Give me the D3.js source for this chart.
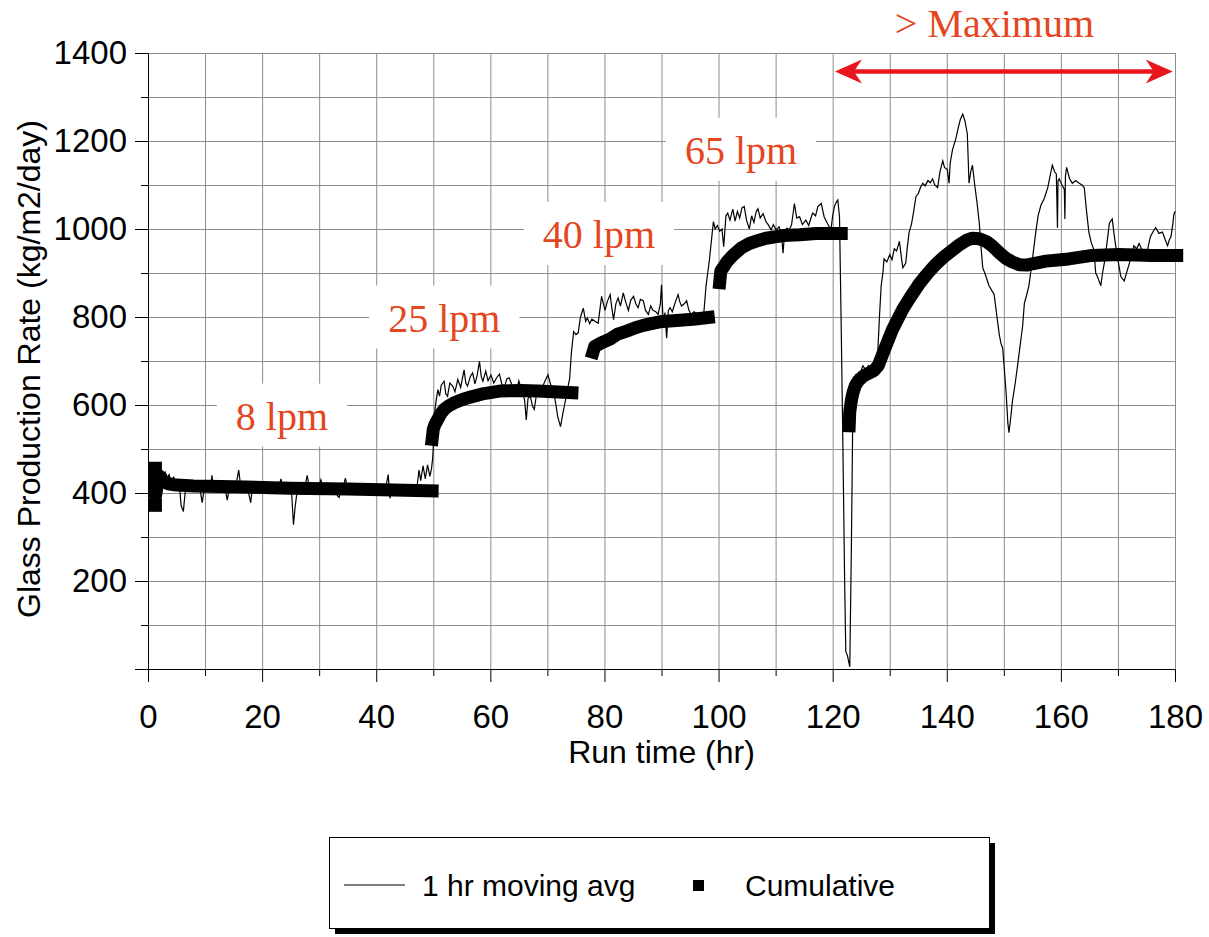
<!DOCTYPE html>
<meta charset="utf-8">
<script src="https://d3js.org/d3.v7.min.js"></script>
<style>
  body { margin: 0; background: #fff; }
</style>
<div id="my_dataviz"></div>
<script>

// 1 hr moving average, [run time (hr), rate (kg/m2/day)], one array per air flow step
var avg8lpm = [[1.0,445],[1.5,430],[2.0,452],[2.5,440],[3.0,448],[3.4,435],[3.7,442],[4.0,428],[4.5,436],[5.0,422],[5.5,418],[5.8,372],[6.2,358],[6.5,400],[7.0,420],[7.5,412],[8.0,425],[8.5,410],[9.0,418],[9.5,378],[9.8,405],[10.2,418],[10.6,408],[11.0,415],[11.2,440],[11.5,410],[12.0,418],[12.5,404],[13.0,422],[13.5,410],[13.9,384],[14.3,416],[14.8,425],[15.3,410],[15.9,452],[16.2,420],[16.5,404],[17.0,424],[17.5,408],[18.0,378],[18.3,412],[18.8,422],[19.3,408],[19.8,418],[20.3,406],[20.8,416],[21.3,400],[21.8,414],[22.3,422],[22.8,406],[23.3,432],[23.7,410],[24.2,404],[24.7,416],[25.2,394],[25.5,328],[25.8,370],[26.2,410],[26.7,418],[27.2,404],[27.6,420],[27.9,440],[28.3,410],[28.8,406],[29.3,420],[29.8,408],[30.3,430],[30.7,410],[31.2,404],[31.7,418],[32.2,406],[32.7,416],[33.2,394],[33.5,390],[33.9,410],[34.3,418],[34.6,434],[35.0,408],[35.5,404],[36.0,416],[36.5,406],[37.0,412],[37.5,400],[38.0,410],[38.5,404],[39.0,412],[39.5,398],[40.0,410],[40.5,403],[41.0,412],[41.5,400],[42.1,442],[42.4,388],[42.8,408],[43.3,412],[43.8,400],[44.3,408],[44.8,398],[45.3,410],[45.8,402],[46.3,408],[46.8,400],[47.2,420],[47.5,452],[47.8,428],[48.2,462],[48.6,432],[49.0,464],[49.4,438],[49.7,456]];

var avg25lpm = [[49.9,480],[50.1,530],[50.3,590],[50.5,610],[50.8,635],[51.1,620],[51.4,645],[51.9,654],[52.2,625],[52.5,620],[52.9,650],[53.4,643],[53.8,630],[54.3,658],[54.8,640],[55.1,660],[55.4,680],[55.7,650],[56.0,643],[56.5,665],[56.9,673],[57.3,648],[57.7,668],[58.1,699],[58.4,665],[58.7,654],[59.2,677],[59.6,655],[60.1,668],[60.6,650],[61.1,662],[61.6,670],[62.0,648],[62.5,642],[62.9,660],[63.3,662],[63.8,645],[64.2,640],[64.5,628],[65.0,655],[65.5,632],[66.0,612],[66.3,566],[66.6,615],[67.0,620],[67.4,597],[67.7,590],[68.1,625],[68.6,631],[69.1,640],[69.6,655],[70.1,669],[70.6,645],[71.1,630],[71.5,600],[71.8,574],[72.3,551],[72.7,580],[73.0,600],[73.3,619],[73.6,640],[73.9,660],[74.2,718],[74.6,767],[75.0,760],[75.4,764],[75.8,800],[76.3,820],[76.7,790],[77.0,798],[77.4,785],[77.8,795],[78.4,790],[78.9,786]];

var avg40lpm = [[79.5,847],[80.1,815],[80.5,835],[81.0,851],[81.3,820],[81.6,794],[82.0,830],[82.4,843],[82.8,825],[83.3,855],[83.7,835],[84.2,815],[84.6,838],[85.1,847],[85.5,830],[85.9,821],[86.3,840],[86.8,837],[87.2,815],[87.7,806],[88.1,825],[88.5,815],[89.0,812],[89.4,806],[89.8,830],[90.0,873],[90.3,785],[90.6,810],[90.9,752],[91.2,815],[91.5,821],[91.9,812],[92.3,829],[92.6,840],[92.9,851],[93.2,835],[93.5,825],[94.0,830],[94.4,837],[94.8,815],[95.2,806],[95.7,812],[96.2,808],[96.7,810],[97.0,804],[97.4,806],[97.8,870],[98.4,930],[98.8,980]];

var avg65lpm = [[99.1,1017],[99.4,1000],[99.8,1008],[100.2,995],[100.6,1000],[100.9,960],[101.3,1030],[101.6,1036],[102.0,1020],[102.5,1045],[102.9,1018],[103.3,1040],[103.7,1025],[104.1,1048],[104.5,1051],[104.9,1020],[105.4,1000],[105.8,1030],[106.2,1015],[106.6,1040],[106.9,1046],[107.3,1025],[107.8,1035],[108.3,1017],[108.7,1010],[109.2,998],[109.6,1010],[110.1,998],[110.6,1005],[111.0,990],[111.3,945],[111.6,995],[112.0,1002],[112.4,998],[112.8,1010],[113.3,1058],[113.7,1025],[114.2,1028],[114.7,1010],[115.3,1020],[115.8,1008],[116.2,1025],[116.5,1036],[117.0,1030],[117.4,1051],[118.0,1058],[118.5,1028],[119.0,1015],[119.4,1005],[119.7,998],[120.0,1030],[120.3,1051],[120.6,1060],[120.9,1066],[121.2,1028],[121.5,775],[121.8,500],[122.1,200],[122.3,40]];

var avgMax = [[122.6,30],[123.0,5],[123.3,300],[123.5,547],[123.8,620],[124.1,668],[124.5,660],[124.9,675],[125.3,689],[125.8,680],[126.3,690],[126.7,685],[127.0,689],[127.5,700],[127.9,719],[128.2,800],[128.5,871],[128.8,900],[129.0,932],[129.5,925],[130.0,942],[130.4,930],[130.8,955],[131.2,950],[131.7,972],[132.0,940],[132.3,912],[132.8,922],[133.1,960],[133.4,993],[133.8,1010],[134.2,1040],[134.6,1074],[135.0,1080],[135.4,1095],[135.8,1104],[136.2,1098],[136.7,1110],[137.1,1105],[137.5,1114],[137.9,1100],[138.4,1094],[138.8,1130],[139.3,1155],[139.6,1140],[140.1,1135],[140.4,1104],[140.6,1150],[141.0,1180],[141.6,1206],[142.0,1230],[142.4,1250],[142.8,1261],[143.2,1245],[143.6,1216],[143.9,1104],[144.2,1130],[144.5,1145],[144.9,1100],[145.3,1060],[145.7,1013],[146.0,960],[146.3,912],[146.8,895],[147.4,871],[147.9,860],[148.3,851],[148.8,800],[149.2,760],[149.5,740],[149.8,729],[150.1,680],[150.4,628],[150.7,560],[150.9,537],[151.2,570],[151.5,608],[152.0,650],[152.4,689],[153.0,750],[153.3,780],[153.6,831],[154.0,850],[154.4,871],[155.0,930],[155.6,993],[156.0,1030],[156.5,1054],[157.1,1070],[157.7,1094],[158.1,1120],[158.5,1145],[158.9,1130],[159.2,1125],[159.4,1003],[159.5,1110],[159.7,1114],[160.2,1100],[160.6,1090],[160.7,1023],[160.8,1120],[161.0,1140],[161.5,1115],[162.0,1104],[162.6,1110],[163.2,1104],[163.7,1100],[164.1,1094],[164.5,1040],[164.9,993],[165.3,970],[165.8,952],[166.1,900],[166.4,892],[167.0,871],[167.3,900],[167.6,922],[168.0,960],[168.5,1013],[169.0,1023],[169.3,990],[169.6,962],[170.0,930],[170.5,892],[171.1,882],[171.5,900],[172.0,922],[172.4,940],[172.8,962],[173.3,955],[173.7,967],[174.3,950],[174.9,932],[175.3,960],[175.7,983],[176.2,995],[176.6,1003],[177.2,990],[177.8,993],[178.3,975],[178.7,962],[179.0,975],[179.3,983],[179.6,1010],[179.8,1033],[180.0,1040]];

// cumulative rate, one array per step
var cumFirst = [[1.3,372]];
var cum8lpm = [[1.3,456],[1.3,392],[1.9,440],[2.6,428],[3.5,421],[5.0,418],[8.0,416],[15.0,414],[25.0,411],[35.0,409],[45.0,406],[49.8,405]];
var cum25lpm = [[49.8,522],[50.0,545],[50.3,556],[50.8,568],[51.3,580],[51.9,590],[52.7,598],[53.7,605],[55.0,612],[56.5,618],[58.9,626],[61.9,632],[65.4,633],[68.3,632],[71.0,630],[74.3,628]];
var cum40lpm = [[78.0,720],[78.3,733],[79.4,741],[81.0,750],[82.3,761],[83.9,768],[85.3,775],[86.8,781],[88.2,785],[89.7,789],[92.6,792],[95.5,795],[98.2,799]];
var cum65lpm = [[100.2,878],[100.4,905],[100.8,912],[101.5,926],[102.5,940],[104.0,957],[105.4,967],[107.0,974],[108.3,979],[111.3,985],[114.2,987],[117.1,990],[119.5,990],[121.5,990]];
var cumMax = [[122.9,553],[123.0,585],[123.3,612],[123.6,630],[124.0,645],[124.5,655],[125.3,665],[126.3,672],[127.2,678],[128.0,690],[129.3,733],[130.5,772],[132.3,818],[133.5,843],[135.2,876],[136.7,900],[138.1,920],[139.6,938],[141.0,952],[142.3,965],[143.4,974],[144.5,979],[145.7,978],[147.0,971],[148.0,961],[149.3,945],[150.4,933],[151.5,925],[152.7,919],[154.0,918],[155.0,921],[157.4,927],[161.4,932],[165.5,940],[170.2,942],[176.0,940],[180.3,940]];

var stepLabels = ["8 lpm", "25 lpm", "40 lpm", "65 lpm"];
var seriesNames = ["1 hr moving avg", "Cumulative"];
var xTicks = d3.range(0, 181, 10);
var yTicks = d3.range(0, 1401, 100);

// set the dimensions and margins of the graph
var margin = {top: 53, right: 34, bottom: 268, left: 148},
    width = 1209 - margin.left - margin.right,
    height = 937 - margin.top - margin.bottom;

var svg = d3.select("#my_dataviz")
  .append("svg")
    .attr("width", 1209)
    .attr("height", 937)
    .style("font-family", "'Liberation Sans', Arial, sans-serif")
  .append("g")
    .attr("transform", "translate(" + margin.left + "," + margin.top + ")");

var x = d3.scaleLinear().domain([0, 180]).range([0, width]);
var y = d3.scaleLinear().domain([0, 1400]).range([height, 0]);

// grid
svg.append("g")
  .attr("transform", "translate(0," + height + ")")
  .call(d3.axisBottom(x).tickValues(xTicks).tickSize(-height).tickFormat(""))
  .call(function(g) { g.select(".domain").remove(); })
  .selectAll("line").attr("stroke", "#8c8c8c");

svg.append("g")
  .call(d3.axisLeft(y).tickValues(yTicks).tickSize(-width).tickFormat(""))
  .call(function(g) { g.select(".domain").remove(); })
  .selectAll("line").attr("stroke", "#8c8c8c");

// white boxes behind the step labels (they cut the grid)
var labelPos = [[15.4, 544], [42.1, 767], [69.2, 957], [94.1, 1148]];
var labelG = svg.append("g");
stepLabels.forEach(function(s, i) {
  var t = labelG.append("text")
    .attr("x", x(labelPos[i][0]))
    .attr("y", y(labelPos[i][1]))
    .attr("font-family", "'Liberation Serif', 'Times New Roman', serif")
    .attr("font-size", 40)
    .attr("fill", "#e4461f")
    .text(s);
  var b = t.node().getBBox();
  labelG.insert("rect", "text")
    .attr("x", b.x - 19).attr("y", b.y - 10)
    .attr("width", b.width + 38).attr("height", b.height + 18)
    .attr("fill", "#fff");
});

// axes
var xAxis = svg.append("g")
  .attr("transform", "translate(0," + height + ")")
  .call(d3.axisBottom(x).tickValues(xTicks).tickSizeInner(13).tickSizeOuter(0).tickPadding(23)
    .tickFormat(function(d) { return d % 20 === 0 ? d : ""; }));
xAxis.selectAll(".tick line").attr("y2", function(d) { return d % 20 === 0 ? 13 : 7; });
xAxis.select(".domain").attr("stroke", "#000");
xAxis.selectAll("text").attr("font-size", 33).attr("fill", "#000").attr("font-family", null);

var yAxis = svg.append("g")
  .call(d3.axisLeft(y).tickValues(yTicks).tickSizeInner(13).tickSizeOuter(0).tickPadding(8)
    .tickFormat(function(d) { return d > 0 && d % 200 === 0 ? d : ""; }));
yAxis.selectAll(".tick line").attr("x2", function(d) { return d % 200 === 0 ? -13 : -7; });
yAxis.selectAll("text").attr("font-size", 33).attr("fill", "#000").attr("font-family", null);

// axis titles
svg.append("text")
  .attr("text-anchor", "middle")
  .attr("x", width / 2)
  .attr("y", height + 94)
  .attr("font-size", 32)
  .text("Run time (hr)");

svg.append("text")
  .attr("text-anchor", "middle")
  .attr("transform", "rotate(-90)")
  .attr("x", -(height / 2) - 8)
  .attr("y", -108)
  .attr("font-size", 32)
  .text("Glass Production Rate (kg/m2/day)");

// series
var line = d3.line()
  .x(function(d) { return x(d[0]); })
  .y(function(d) { return y(d[1]); });

svg.append("path")
  .datum([].concat(avg8lpm, avg25lpm, avg40lpm, avg65lpm, avgMax))
  .attr("fill", "none")
  .attr("stroke", "#000")
  .attr("stroke-width", 1.2)
  .attr("d", line);

// cumulative markers are so dense they merge into a thick band
[cum8lpm, cum25lpm, cum40lpm, cum65lpm, cumMax].forEach(function(seg) {
  svg.append("path")
    .datum(seg)
    .attr("fill", "none")
    .attr("stroke", "#000")
    .attr("stroke-width", 13)
    .attr("stroke-linejoin", "round")
    .attr("stroke-linecap", "square")
    .attr("d", line);
});
svg.append("g").selectAll("rect")
  .data(cumFirst)
  .enter()
  .append("rect")
    .attr("x", function(d) { return x(d[0]) - 6.5; })
    .attr("y", function(d) { return y(d[1]) - 6.5; })
    .attr("width", 13)
    .attr("height", 13)
    .attr("fill", "#000");

// "> Maximum" arrow
var red = "#e8161c";
var ay = y(1358), ax1 = x(120.4), ax2 = x(179.6);
svg.append("line")
  .attr("x1", ax1 + 10).attr("x2", ax2 - 10)
  .attr("y1", ay).attr("y2", ay)
  .attr("stroke", red).attr("stroke-width", 4.5);
svg.append("path")
  .attr("d", "M" + ax1 + "," + ay + " L" + (ax1 + 27) + "," + (ay - 12) + " L" + (ax1 + 19) + "," + ay +
             " L" + (ax1 + 27) + "," + (ay + 12) + "Z")
  .attr("fill", red);
svg.append("path")
  .attr("d", "M" + ax2 + "," + ay + " L" + (ax2 - 27) + "," + (ay - 12) + " L" + (ax2 - 19) + "," + ay +
             " L" + (ax2 - 27) + "," + (ay + 12) + "Z")
  .attr("fill", red);

svg.append("text")
  .attr("x", x(130.9))
  .attr("y", y(1437))
  .attr("font-family", "'Liberation Serif', 'Times New Roman', serif")
  .attr("font-size", 40)
  .attr("fill", "#e4461f")
  .text("> Maximum");

// legend
var legend = d3.select("svg").append("g");
legend.append("rect")
  .attr("x", 335).attr("y", 843).attr("width", 660).attr("height", 91)
  .attr("fill", "#000");
legend.append("rect")
  .attr("x", 329.5).attr("y", 837.5).attr("width", 660).attr("height", 91)
  .attr("fill", "#fff").attr("stroke", "#000").attr("stroke-width", 1);
legend.append("line")
  .attr("x1", 344).attr("x2", 405).attr("y1", 885).attr("y2", 885)
  .attr("stroke", "#000").attr("stroke-width", 1.2);
legend.append("text")
  .attr("x", 422).attr("y", 896)
  .attr("font-size", 30)
  .text(seriesNames[0]);
legend.append("rect")
  .attr("x", 693).attr("y", 880).attr("width", 11).attr("height", 11)
  .attr("fill", "#000");
legend.append("text")
  .attr("x", 745).attr("y", 896)
  .attr("font-size", 30)
  .text(seriesNames[1]);

</script>
